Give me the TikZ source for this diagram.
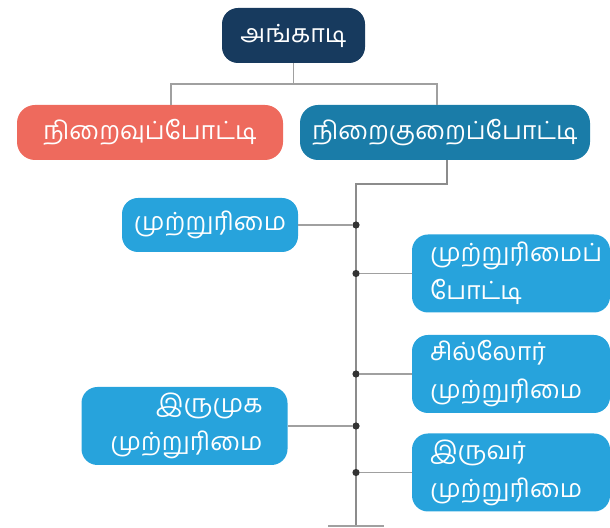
\documentclass[tikz,border=0pt]{standalone}
\usepackage{fontspec}
\newfontfamily\tamilfont[Script=Tamil]{Hind Madurai}
\usetikzlibrary{positioning,calc}
\definecolor{navy}{HTML}{173A5E}
\definecolor{coral}{HTML}{EE6A5D}
\definecolor{deepblue}{HTML}{1A7CA8}
\definecolor{sky}{HTML}{27A3DC}
\definecolor{wire}{HTML}{A0A0A0}
\definecolor{spinegray}{HTML}{8C8C8C}

\begin{document}
\begin{tikzpicture}[
    x=0.5pt, y=-0.5pt,
    box/.style={rounded corners=8pt, text=white, inner sep=0pt, align=center,
        font=\tamilfont\fontsize{12.5}{19}\selectfont},
    headbox/.style={box, minimum height=27.5pt},
    sidebox/.style={box, minimum height=39pt, inner xsep=9pt, fill=sky},
    link/.style={draw=wire, line width=0.9pt},
    dot/.style={circle, fill=black!80, inner sep=0pt, minimum size=3.6pt},
]
    \useasboundingbox (0,0) rectangle (610,528);

    % Top of the tree
    \node[headbox, fill=navy, minimum width=71.5pt] (shop) at (293.5,35.5) {அங்காடி};
    \node[headbox, fill=coral, minimum width=133pt, rounded corners=9pt] (perfect) at (150,132.5) {நிறைவுப்போட்டி};
    \node[headbox, fill=deepblue, minimum width=145pt, rounded corners=9pt] (imperfect) at (445,132.5) {நிறைகுறைப்போட்டி};

    % Kinds of imperfect competition
    \node[box, fill=sky, minimum width=88pt, minimum height=27pt] (mono) at (210,225) {முற்றுரிமை};
    \node[sidebox, text width=81pt, align=left] (monocomp) at (511,273.5) {முற்றுரிமைப்\\போட்டி};
    \node[sidebox, text width=81pt, align=left] (oligo) at (511,374) {சில்லோர்\\முற்றுரிமை};
    \node[sidebox, text width=78pt, align=right, inner xsep=12.5pt] (bilat) at (184.5,426) {இருமுக\\முற்றுரிமை};
    \node[sidebox, text width=81pt, align=left] (duo) at (511,472.5) {இருவர்\\முற்றுரிமை};

    % Connectors
    \coordinate (fork) at ($(shop.south)+(0,21)$);
    \draw[link] (shop.south) -- (fork);
    \draw[link] (fork) -| ([xshift=10.5pt]perfect.north);
    \draw[link] (fork) -| ([xshift=-4pt]imperfect.north);

    \coordinate (spinetop) at (356,184);
    \coordinate (spineend) at (356,526);
    \draw[draw=spinegray, line width=1.4pt] ([xshift=1pt]imperfect.south) |- (spinetop) -- (spineend);
    \draw[draw=wire, line width=1.2pt] ($(spineend)+(-28,0)$) -- ($(spineend)+(28,0)$);

    \foreach \kind in {mono, monocomp, oligo, bilat, duo}{
        \node[dot] (\kind dot) at (\kind.center -| spinetop) {};
        \draw[link] (\kind) -- (\kind dot);
    }
\end{tikzpicture}
\end{document}
